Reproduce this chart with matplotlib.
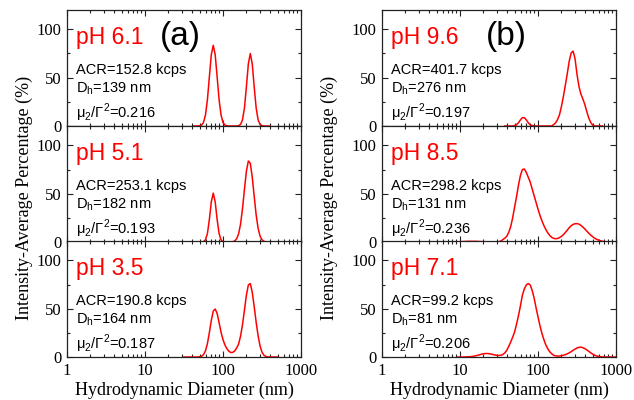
import numpy as np
import matplotlib
matplotlib.use("Agg")
import matplotlib.pyplot as plt
from matplotlib.ticker import LogLocator, MultipleLocator, NullFormatter, FixedLocator, FixedFormatter

nan = np.nan

# ---------------- data ----------------
# diameter grid (nm) for panel (a)
diam_a = [31.62, 33.50, 35.48, 37.58, 39.81, 42.17, 44.67, 47.32, 50.12, 53.09,
          56.23, 59.57, 63.10, 66.83, 70.79, 74.99, 79.43, 84.14, 89.13, 94.41,
          100.0, 105.9, 112.2, 118.9, 125.9, 133.4, 141.3, 149.6, 158.5, 167.9,
          177.8, 188.4, 199.5, 211.3, 223.9, 237.1, 251.2, 266.1, 281.8, 298.5,
          316.2, 335.0, 354.8, 375.8, 398.1, 421.7, 446.7, 473.2, 501.2, 530.9]

ph61 = [nan, nan, nan, nan, nan, 0, 0, 0, 0.2, 0.9,
        3.7, 11.3, 27.1, 50.6, 73.7, 83.5, 73.7, 50.6, 27.1, 11.3,
        3.7, 0.9, 0.2, 0, 0, 0, 0, 0, 0.3, 1.6,
        6.4, 18.7, 40.5, 64.3, 75.0, 64.3, 40.5, 18.7, 6.4, 1.6,
        0.3, 0, 0, 0, 0, nan, nan, nan, nan, nan]

ph51 = [nan, nan, 0, 0, 0, 0, 0, 0, 0, 0,
        0.4, 2.2, 8.7, 23.1, 41.5, 50.5, 41.5, 23.1, 8.7, 2.2,
        0.4, 0, 0, 0, 0, 0.3, 1.1, 3.3, 8.5, 18.5,
        34.5, 54.6, 73.3, 83.8, 81.4, 67.2, 47.2, 28.1, 14.3, 6.1,
        2.2, 0.7, 0.2, 0, 0, nan, nan, nan, nan, nan]

ph35 = [0, 0, 0, 0, 0, 0, 0, 0, 0.2, 0.7,
        2.4, 6.3, 13.8, 25.1, 37.8, 47.5, 49.6, 45.0, 35.5, 25.5,
        18.0, 12.4, 8.6, 6.0, 4.6, 4.8, 6.3, 9.2, 13.5, 21.5,
        33.5, 48.5, 64.0, 74.5, 76.0, 67.0, 52.0, 36.0, 22.0, 11.5,
        5.0, 1.8, 0.6, 0.1, 0, 0, 0, 0, 0, nan]

# diameter grid (nm) for panel (b)
diam_b = [5.623, 5.957, 6.310, 6.683, 7.079, 7.499, 7.943, 8.414, 8.913, 9.441,
          10.00, 10.59, 11.22, 11.89, 12.59, 13.34, 14.13, 14.96, 15.85, 16.79,
          17.78, 18.84, 19.95, 21.13, 22.39, 23.71, 25.12, 26.61, 28.18, 29.85,
          31.62, 33.50, 35.48, 37.58, 39.81, 42.17, 44.67, 47.32, 50.12, 53.09,
          56.23, 59.57, 63.10, 66.83, 70.79, 74.99, 79.43, 84.14, 89.13, 94.41,
          100.0, 105.9, 112.2, 118.9, 125.9, 133.4, 141.3, 149.6, 158.5, 167.9,
          177.8, 188.4, 199.5, 211.3, 223.9, 237.1, 251.2, 266.1, 281.8, 298.5,
          316.2, 335.0, 354.8, 375.8, 398.1, 421.7, 446.7, 473.2, 501.2, 530.9,
          562.3, 595.7, 631.0, 668.3, 707.9, 749.9, 794.3, 841.4, 891.3, 944.1,
          1000.0]

ph96 = [nan, nan, nan, nan, nan, nan, nan, nan, nan, nan,
        nan, nan, nan, nan, nan, nan, nan, nan, nan, nan,
        nan, nan, nan, nan, nan, nan, nan, nan, nan, nan,
        nan, nan, nan, 0, 0, 0, 0, 0, 0.4, 1.3,
        3.4, 6.3, 8.6, 8.6, 6.3, 3.4, 1.3, 0.4, 0, 0,
        0, 0, 0, 0, 0, 0, 0, 0, 1.5, 3.2,
        6.5, 11.5, 20, 30.2, 42, 54, 67, 75.5, 77.5, 69.5,
        53.5, 41, 33, 28, 22.3, 15, 8.5, 3.8, 1.0, 0,
        0, 0, 0, 0, nan, nan, nan, nan, nan, nan,
        nan]

ph85 = [nan, nan, 0, 0, 0, 0, 0, 0, 0.1, 0.2,
        0.3, 0.4, 0.5, 0.6, 0.7, 0.7, 0.7, 0.7, 0.7, 0.6,
        0.5, 0.4, 0.3, 0.2, 0.1, 0, 0, 0, 0, 0,
        0.3, 1.2, 2.5, 4, 6, 10, 16, 25, 36, 47,
        59, 69, 75, 75.5, 72, 67, 62, 55, 48, 41,
        34, 27.5, 22, 17, 13, 9.5, 6.8, 4.8, 3.8, 3.4,
        3.6, 4.5, 5.8, 7.5, 9.8, 12.2, 14.8, 16.8, 18.2, 18.9,
        19, 18.5, 17.2, 15.5, 13.5, 11.3, 9.2, 7.2, 5.5, 4,
        2.9, 2.0, 1.3, 0.8, 0.4, 0.2, 0, nan, nan, nan,
        nan]

ph71 = [nan, nan, nan, nan, nan, nan, nan, nan, nan, 0,
        0, 0, 0, 0.1, 0.2, 0.3, 0.5, 0.8, 1.2, 1.7,
        2.3, 2.9, 3.3, 3.6, 3.6, 3.4, 3.0, 2.5, 2.0, 1.7,
        1.6, 1.8, 2.6, 4.3, 7.0, 11, 15.5, 20.5, 26, 34,
        43, 53, 64, 70.5, 74.5, 76, 74.5, 69, 61, 51,
        41.5, 32.5, 24.5, 18, 12.5, 8.5, 5.5, 3.4, 1.8, 1.2,
        1.0, 1.0, 1.3, 1.8, 2.4, 3.3, 4.3, 5.5, 6.9, 8.2,
        9.3, 10.0, 10.2, 9.6, 8.7, 7.4, 5.9, 4.4, 3.0, 1.9,
        1.1, 0.6, 0.3, 0.1, 0, 0, 0, 0, 0, 0,
        0]

ph_labels_a = ["pH 6.1", "pH 5.1", "pH 3.5"]
acr_a = ["ACR=152.8 kcps", "ACR=253.1 kcps", "ACR=190.8 kcps"]
dh_a = ["139", "182", "164"]
pdi_a = ["0.216", "0.193", "0.187"]

ph_labels_b = ["pH 9.6", "pH 8.5", "pH 7.1"]
acr_b = ["ACR=401.7 kcps", "ACR=298.2 kcps", "ACR=99.2 kcps"]
dh_b = ["276", "131", "81"]
pdi_b = ["0.197", "0.236", "0.206"]

series_a = [ph61, ph51, ph35]
series_b = [ph96, ph85, ph71]

y_ticks = [0, 50, 100]
x_ticks = [1, 10, 100, 1000]
x_ticklabels = ["1", "10", "100", "1000"]

assert len(diam_a) == 50 and all(len(s) == 50 for s in series_a)
assert len(diam_b) == 91 and all(len(s) == 91 for s in series_b)

# ---------------- plotting ----------------
plt.rcParams['font.family'] = ['Liberation Sans', 'DejaVu Sans']
SERIF = ['Liberation Serif', 'DejaVu Serif']

fig = plt.figure(figsize=(6.34, 4.0), dpi=100)
W, H = 634.0, 400.0

panel_x0 = [67, 382]
panel_w = 234
row_tops = [10, 126, 241]
row_h = 116


def style_axis(ax, bottom_labels):
    ax.set_xscale('log')
    ax.set_xlim(1, 1000)
    ax.set_ylim(0, 120)
    ax.xaxis.set_major_locator(FixedLocator(x_ticks))
    ax.xaxis.set_minor_locator(LogLocator(base=10, subs=np.arange(2, 10)))
    ax.xaxis.set_minor_formatter(NullFormatter())
    if bottom_labels:
        ax.xaxis.set_major_formatter(FixedFormatter(x_ticklabels))
    else:
        ax.xaxis.set_major_formatter(NullFormatter())
    ax.yaxis.set_major_locator(FixedLocator(y_ticks))
    ax.yaxis.set_minor_locator(MultipleLocator(25))
    ax.tick_params(which='both', direction='in', top=True, right=True,
                   width=0.8, colors='#222222', labelcolor='black')
    ax.tick_params(which='major', length=4, pad=4, labelsize=12)
    ax.tick_params(which='minor', length=2.2)
    for lab in ax.get_xticklabels() + ax.get_yticklabels():
        lab.set_family(SERIF)
    for sp in ax.spines.values():
        sp.set_linewidth(0.9)
        sp.set_color('#222222')


def draw_panel(px0, diam, series, phs, acrs, dhs, pdis, letter, letter_x, ylab_x):
    axes = []
    for r in range(3):
        ax = fig.add_axes([px0 / W, (H - row_tops[r] - row_h) / H, panel_w / W, row_h / H])
        style_axis(ax, r == 2)
        ax.plot(diam, series[r], color='#ff0000', lw=1.1)
        ax.text(0.04, 0.765, phs[r], transform=ax.transAxes, color='#ff0000',
                fontsize=16.5, va='center', ha='left')
        ax.text(0.04, 0.48, acrs[r], transform=ax.transAxes, fontsize=10.5,
                va='center', ha='left')
        ax.text(0.04, 0.325, 'D$_\\mathregular{h}$=' + dhs[r] + ' nm',
                transform=ax.transAxes, fontsize=10.5, va='center', ha='left')
        ax.text(0.04, 0.115, '\u03bc$_\\mathregular{2}$/\u0393$^\\mathregular{2}$=' + pdis[r],
                transform=ax.transAxes, fontsize=10.5, va='center', ha='left')
        axes.append(ax)
    axes[0].text(letter_x, 0.775, letter, transform=axes[0].transAxes, fontsize=24,
                 va='center', ha='center')
    axes[1].set_ylabel('Intensity-Average Percentage (%)', family=SERIF, fontsize=13)
    axes[1].yaxis.set_label_coords(ylab_x, 0.384)
    axes[2].set_xlabel('Hydrodynamic Diameter (nm)', family=SERIF, fontsize=13,
                       labelpad=2)
    return axes


draw_panel(panel_x0[0], diam_a, series_a, ph_labels_a, acr_a, dh_a, pdi_a, '(a)', 0.485, -0.145)
draw_panel(panel_x0[1], diam_b, series_b, ph_labels_b, acr_b, dh_b, pdi_b, '(b)', 0.53, -0.188)

fig.savefig('out.png', dpi=100)
